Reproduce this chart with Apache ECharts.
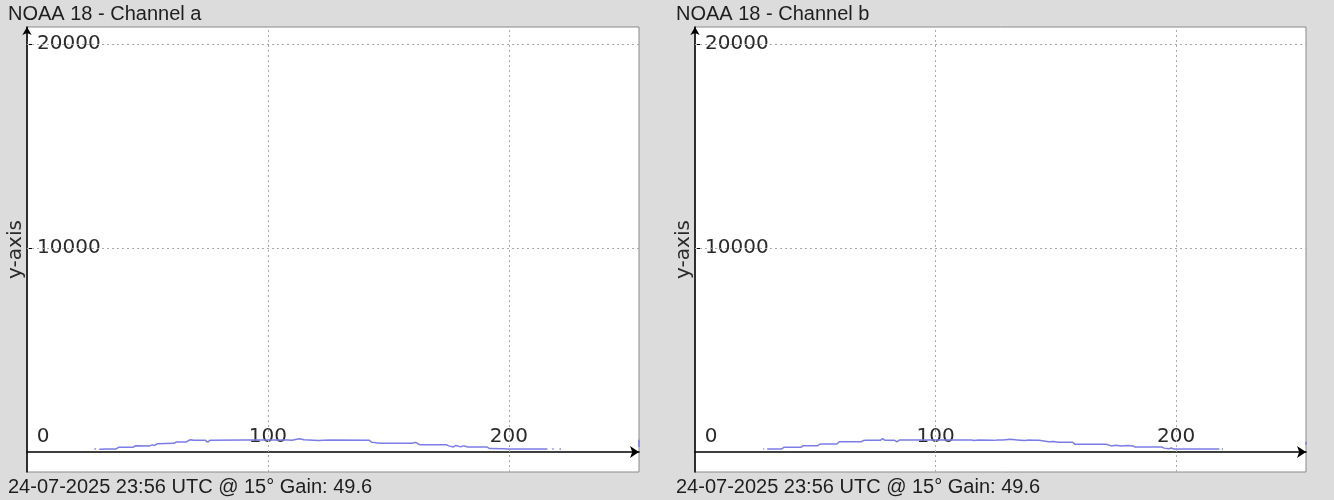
<!DOCTYPE html>
<html>
<head>
<meta charset="utf-8">
<script src="https://cdn.jsdelivr.net/npm/echarts@6/dist/echarts.min.js"></script>
<style>
html,body{margin:0;padding:0;background:#dcdcdc;}
#c{width:1334px;height:500px;}
</style>
</head>
<body>
<div id="c"></div>
<script>
// ---- data ----
const titles = ['NOAA 18 - Channel a', 'NOAA 18 - Channel b'];
const footer = '24-07-2025 23:56 UTC @ 15\u00b0 Gain: 49.6';
const yAxisName = 'y-axis';
const xTicks = [0, 100, 200];
const yTicks = [10000, 20000];
const xRange = [0, 254];
const yRange = [-980, 20830];

const chanA_x = [28,28.6,'-',30,33,37,38,44,45,51,52,53,54,61,62,66,67,68,69,74,75,76,90,100,108,110,113,115,117,121,123,126,142,143,145,147,160,161,162,163,174,175,177,178,180,181,182,183,191,192,198,199,216,'-',218,218.6,'-',221,221.6,'-',254,254];
const chanA_y = [150,150,'-',140,150,150,230,230,310,300,350,320,400,426,490,490,560,600,573,573,480,580,585,585,585,580,650,600,590,560,580,585,580,480,450,426,426,470,426,358,358,300,250,320,250,300,280,240,240,170,162,147,147,'-',150,150,'-',150,150,'-',250,600];

const chanB_x = [28.4,28.8,'-',30,36,37,44,45,51,52,59,60,69,70,71,77,78,79,83,84,85,90,100,108,115,116,118,124,126,128,131,134,137,139,141,143,145,147,149,151,157,158,171,173,175,177,180,182,183,194,195,197,198,199,218,'-',219,219.5,'-',254,254];
const chanB_y = [150,150,'-',150,150,230,230,310,310,392,392,505,505,560,573,573,650,573,573,500,588,588,588,588,588,560,588,570,590,588,620,590,560,588,580,580,540,500,520,480,480,377,377,300,330,290,320,294,245,245,190,162,200,147,147,'-',150,150,'-',350,500];

function pairs(xs, ys){ return xs.map((x,i)=> x==='-' ? ['-','-'] : [x, ys[i]]); }

// ---- chart ----
const chart = echarts.init(document.getElementById('c'), null, {renderer:'canvas'});
const panels = [{left:27, width:612, tx:8}, {left:695, width:611, tx:676}];
const lblFont = {fontFamily:'DejaVu Sans', fontSize:20, color:'#2a2a2a'};
const series = [chanA_x, chanB_x].map((xs,i)=>({
  type:'line', xAxisIndex:i, yAxisIndex:i,
  data: pairs(xs, i===0?chanA_y:chanB_y),
  showSymbol:false, connectNulls:false,
  lineStyle:{color:'#7c7ce6', width:1.5}, itemStyle:{color:'#7c7ce6'},
  markLine:{silent:true, symbol:['none','none'], label:{show:false},
    lineStyle:{color:'#aaaaaa', type:[2,3], width:1},
    data:[{yAxis:yTicks[0]},{yAxis:yTicks[1]},{xAxis:xTicks[1]},{xAxis:xTicks[2]}]}
}));
const titleArr = [];
panels.forEach((p,i)=>{
  titleArr.push({text:titles[i], left:p.tx, top:4, padding:0, textStyle:{fontFamily:'Liberation Sans', fontSize:20, fontWeight:'normal', color:'#1e1e1e'}});
  titleArr.push({text:footer, left:p.tx, top:477, padding:0, textStyle:{fontFamily:'Liberation Sans', fontSize:20, fontWeight:'normal', color:'#1e1e1e'}});
});
chart.setOption({
  animation:false,
  backgroundColor:'#dcdcdc',
  title: titleArr,
  grid: panels.map(p=>({left:p.left, width:p.width, top:27, height:445, outerBoundsMode:'none', containLabel:false, show:true, backgroundColor:'#ffffff', borderColor:'#8a8a8a', borderWidth:1})),
  xAxis: panels.map((p,i)=>({
    type:'value', gridIndex:i, min:xRange[0], max:xRange[1], z:3,
    axisLine:{onZero:true, lineStyle:{color:'#000', width:1.5}, symbol:['none','arrow'], symbolSize:[9,9]},
    axisTick:{show:false},
    splitLine:{show:false},
    axisLabel:{inside:true, margin:25, customValues:xTicks,
      formatter: v => v===0 ? '{z|0}' : '{w|' + v + '}',
      rich:{z:Object.assign({padding:[0,0,0,32]}, lblFont), w:Object.assign({backgroundColor:'#fff', padding:[0,1]}, lblFont)}}
  })),
  yAxis: panels.map((p,i)=>({
    type:'value', gridIndex:i, min:yRange[0], max:yRange[1], z:3,
    name:yAxisName, nameLocation:'middle', nameGap:0, nameRotate:90,
    nameTextStyle:lblFont,
    axisLine:{show:true, onZero:false, lineStyle:{color:'#000', width:1.5}, symbol:['none','arrow'], symbolSize:[7,8]},
    axisTick:{show:true, inside:true, length:5, customValues:yTicks, lineStyle:{color:'#000'}},
    splitLine:{show:false},
    axisLabel:Object.assign({inside:true, margin:9, customValues:yTicks, backgroundColor:'#fff', padding:[0,1], formatter: v => String(v)}, lblFont)
  })),
  series: series
});
</script>
</body>
</html>
